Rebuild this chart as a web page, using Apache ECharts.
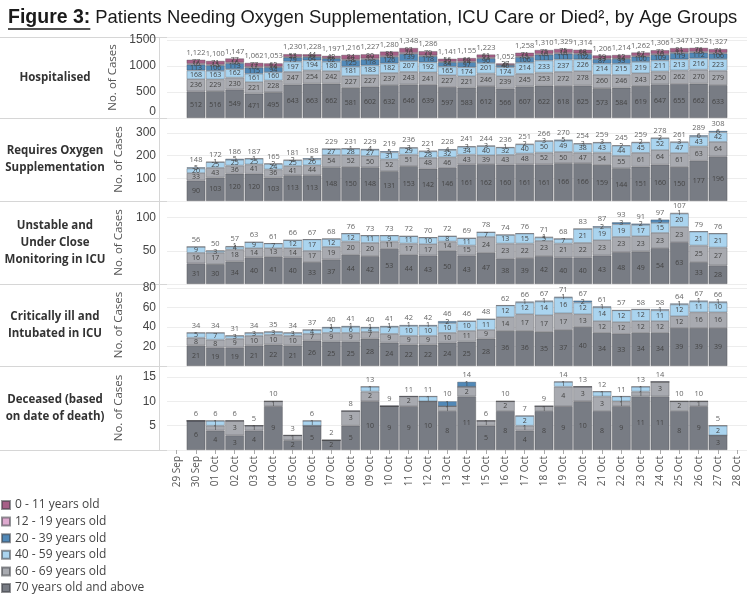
<!DOCTYPE html>
<html>
<head>
<meta charset="utf-8">
<title>Figure 3 - Patients by Age Groups</title>
<script src="https://cdn.jsdelivr.net/npm/echarts@6.0.0/dist/echarts.min.js"></script>
<style>
  html, body { margin: 0; padding: 0; background: #fff; }
  #chart { width: 747px; height: 598px; }
</style>
</head>
<body>
<div id="chart"></div>
<script>
/* Figure 3: stacked age-group bars, five panels sharing one date axis.
 * 29 Sep and 28 Oct are empty columns in the source, hence the padding. */

const DATES = ['29 Sep', '30 Sep', '01 Oct', '02 Oct', '03 Oct', '04 Oct', '05 Oct', '06 Oct', '07 Oct',
  '08 Oct', '09 Oct', '10 Oct', '11 Oct', '12 Oct', '13 Oct', '14 Oct', '15 Oct', '16 Oct', '17 Oct',
  '18 Oct', '19 Oct', '20 Oct', '21 Oct', '22 Oct', '23 Oct', '24 Oct', '25 Oct', '26 Oct', '27 Oct', '28 Oct'];

const AGE_GROUPS = ['0 - 11 years old', '12 - 19 years old', '20 - 39 years old',
  '40 - 59 years old', '60 - 69 years old', '70 years old and above'];

// values below run 30 Sep .. 27 Oct
const HOSP_70  = [512, 516, 549, 471, 495, 643, 663, 662, 581, 602, 632, 646, 639, 597, 583, 612, 566, 607, 622, 618, 625, 573, 584, 619, 647, 655, 662, 633];
const HOSP_60  = [236, 229, 230, 221, 228, 247, 254, 242, 227, 227, 237, 243, 241, 227, 221, 246, 239, 245, 253, 272, 278, 260, 246, 243, 250, 262, 270, 279];
const HOSP_40  = [168, 163, 162, 161, 160, 197, 194, 180, 181, 183, 182, 207, 192, 165, 174, 201, 174, 214, 233, 237, 226, 214, 215, 219, 211, 213, 216, 223];
const HOSP_20  = [113, 106, 113, 115, 94, 79, 64, 62, 125, 118, 126, 139, 118, 84, 97, 90, 40, 106, 111, 111, 102, 87, 93, 100, 109, 119, 112, 106];
const HOSP_12  = [16, 15, 16, 17, 14, 11, 9, 9, 18, 17, 18, 20, 17, 12, 14, 13, 6, 15, 16, 16, 15, 13, 14, 14, 16, 17, 16, 15];
const HOSP_0   = [77, 71, 77, 77, 62, 53, 44, 42, 84, 80, 85, 93, 79, 56, 66, 61, 27, 71, 75, 75, 68, 59, 62, 67, 73, 81, 76, 71];

const OXY_70 = [90, 103, 120, 120, 103, 113, 113, 148, 150, 148, 131, 153, 142, 146, 161, 162, 160, 161, 161, 166, 166, 159, 144, 151, 160, 150, 177, 196];
const OXY_60 = [33, 43, 36, 41, 36, 41, 44, 54, 52, 50, 52, 51, 48, 46, 43, 39, 43, 48, 52, 50, 47, 54, 55, 61, 64, 61, 63, 64];
const OXY_40 = [20, 25, 25, 25, 24, 25, 26, 27, 28, 27, 31, 29, 28, 32, 34, 40, 32, 40, 50, 49, 38, 43, 44, 45, 52, 47, 43, 42];
const OXY_20 = [5, 1, 5, 1, 2, 2, 5, 0, 1, 4, 5, 3, 3, 4, 3, 3, 1, 2, 3, 5, 3, 3, 2, 2, 2, 3, 6, 6];

const ICU_70 = [31, 30, 34, 40, 41, 40, 33, 37, 44, 42, 53, 44, 43, 50, 43, 47, 38, 39, 42, 40, 40, 43, 48, 49, 54, 63, 33, 28];
const ICU_60 = [16, 17, 18, 14, 13, 14, 17, 19, 20, 20, 11, 17, 17, 14, 15, 24, 23, 22, 23, 21, 22, 23, 23, 23, 23, 23, 25, 27];
const ICU_40 = [9, 3, 4, 9, 7, 12, 17, 12, 12, 11, 9, 11, 10, 8, 11, 7, 13, 15, 5, 7, 21, 19, 19, 17, 15, 20, 21, 21];
const ICU_20 = [0, 0, 1, 0, 0, 0, 0, 0, 0, 0, 0, 0, 0, 0, 0, 0, 0, 0, 1, 0, 0, 2, 3, 2, 5, 1, 0, 0];

const INT_70 = [21, 19, 19, 21, 22, 21, 26, 25, 25, 28, 24, 22, 22, 24, 25, 28, 36, 36, 35, 37, 40, 34, 33, 34, 34, 39, 39, 39];
const INT_60 = [8, 8, 9, 10, 10, 10, 7, 9, 9, 7, 9, 9, 9, 10, 11, 9, 14, 17, 17, 17, 13, 12, 12, 12, 12, 12, 16, 16];
const INT_40 = [5, 7, 3, 3, 3, 3, 4, 5, 6, 4, 7, 10, 10, 10, 10, 11, 12, 12, 14, 16, 12, 14, 12, 12, 11, 12, 11, 10];
const INT_20 = [0, 0, 0, 0, 0, 0, 0, 1, 1, 1, 1, 1, 1, 2, 0, 0, 0, 1, 1, 1, 2, 1, 0, 0, 1, 1, 1, 1];

const DEC_70 = [6, 4, 3, 4, 9, 2, 5, 2, 5, 10, 9, 9, 10, 8, 11, 5, 8, 4, 8, 9, 10, 8, 9, 11, 11, 8, 9, 3];
const DEC_60 = [0, 1, 3, 1, 1, 1, 0, 0, 3, 2, 0, 2, 0, 1, 2, 1, 2, 1, 1, 4, 3, 3, 1, 1, 3, 2, 1, 0];
const DEC_40 = [0, 1, 0, 0, 0, 0, 1, 0, 0, 1, 0, 0, 1, 0, 0, 0, 0, 2, 0, 1, 0, 1, 1, 1, 0, 0, 0, 2];
const DEC_20 = [0, 0, 0, 0, 0, 0, 0, 0, 0, 0, 0, 0, 0, 1, 1, 0, 0, 0, 0, 0, 0, 0, 0, 0, 0, 0, 0, 0];

const Y_MAX      = [1560, 365, 125, 84, 17.25];
const Y_INTERVAL = [500, 100, 50, 20, 5];

(function () {
  'use strict';

  const COLORS = {
    '0 - 11 years old': '#a65f87',
    '12 - 19 years old': '#deaacf',
    '20 - 39 years old': '#5189b8',
    '40 - 59 years old': '#aad4ef',
    '60 - 69 years old': '#a8aab0',
    '70 years old and above': '#787c84',
  };
  const FONT = '"Open Sans", "Noto Sans", sans-serif';
  const TITLE_FONT = '"Liberation Sans", Arial, sans-serif';

  // bottom -> top stacking order per panel
  const PANELS = [
    { label: 'Hospitalised', groups: [HOSP_70, HOSP_60, HOSP_40, HOSP_20, HOSP_12, HOSP_0] },
    { label: 'Requires Oxygen\nSupplementation', groups: [OXY_70, OXY_60, OXY_40, OXY_20] },
    { label: 'Unstable and\nUnder Close\nMonitoring in ICU', groups: [ICU_70, ICU_60, ICU_40, ICU_20] },
    { label: 'Critically ill and\nIntubated in ICU', groups: [INT_70, INT_60, INT_40, INT_20] },
    { label: 'Deceased (based\non date of death)', groups: [DEC_70, DEC_60, DEC_40, DEC_20] },
  ];
  const STACK_NAMES = AGE_GROUPS.slice().reverse();

  const TOPS = [37, 118, 201, 284, 366];
  const BOTTOM = 450;
  const GRID_LEFT = 167;

  const pad = arr => [null].concat(arr, [null]);
  const fmt = v => v.toLocaleString('en-US');

  const grid = [], xAxis = [], yAxis = [], series = [];

  PANELS.forEach((p, i) => {
    const top = TOPS[i];
    const bottom = i < 4 ? TOPS[i + 1] : BOTTOM;
    const last = i === PANELS.length - 1;
    grid.push({ left: GRID_LEFT, right: 0, top, height: bottom - top });

    xAxis.push({
      type: 'category', gridIndex: i, data: DATES,
      axisLine: { show: false },
      axisTick: { show: last, alignWithLabel: true, length: 4, lineStyle: { color: '#aaa' } },
      axisLabel: { show: last, rotate: 90, fontSize: 10, color: '#555', fontFamily: FONT, margin: 6 },
    });

    yAxis.push({
      type: 'value', gridIndex: i, min: 0, max: Y_MAX[i], interval: Y_INTERVAL[i],
      name: 'No. of Cases', nameLocation: 'middle', nameGap: 42,
      nameTextStyle: { fontSize: 11.5, color: '#555', fontFamily: FONT },
      axisLine: { show: false }, axisTick: { show: false },
      axisLabel: {
        fontSize: 12, color: '#444', fontFamily: TITLE_FONT, margin: 11,
        showMinLabel: i === 0, showMaxLabel: false, verticalAlignMinLabel: 'bottom',
        formatter: v => String(v),
      },
      splitLine: { lineStyle: { color: '#ededed' } },
    });

    const stack = 'p' + i;
    p.groups.forEach((vals, g) => {
      const name = STACK_NAMES[g];
      series.push({
        name, type: 'bar', stack, xAxisIndex: i, yAxisIndex: i,
        data: pad(vals), barCategoryGap: '3%',
        itemStyle: { color: COLORS[name], borderColor: 'rgba(60,62,68,0.55)', borderWidth: 0.6 },
        label: {
          show: true, position: 'inside', fontSize: 7, color: '#444', fontFamily: FONT,
          formatter: d => (d.value > 0 ? d.value : ''),
        },
        emphasis: { disabled: true },
      });
    });

    // totals on top: a zero-height segment that only carries the label
    const totals = pad(p.groups[0].map((_, k) => p.groups.reduce((s, arr) => s + arr[k], 0)));
    series.push({
      name: 'total', type: 'bar', stack, xAxisIndex: i, yAxisIndex: i,
      data: totals.map(t => (t == null ? null : 0)),
      itemStyle: { color: 'transparent', borderWidth: 0 },
      label: {
        show: true, position: 'top', distance: 3, fontSize: 7.5, color: '#666', fontFamily: FONT,
        formatter: d => fmt(totals[d.dataIndex]),
      },
      emphasis: { disabled: true }, silent: true,
    });
  });

  // title parts, underline sized to the bold part
  const BOLD_TITLE = 'bold 19.5px ' + TITLE_FONT;
  const measure = document.createElement('canvas').getContext('2d');
  measure.font = BOLD_TITLE;
  const figW = measure.measureText('Figure 3:').width;

  const graphic = [
    { type: 'text', left: 8, top: 8, style: { text: 'Figure 3:', font: BOLD_TITLE, fill: '#1a1a1a' } },
    { type: 'text', left: 8 + figW + 5, top: 9, style: { text: 'Patients Needing Oxygen Supplementation, ICU Care or Died\u00B2, by Age Groups', font: '18.4px ' + TITLE_FONT, fill: '#1a1a1a' } },
    { type: 'line', shape: { x1: 8, y1: 29, x2: 8 + figW, y2: 29 }, style: { stroke: '#1a1a1a', lineWidth: 1.3 } },
  ];
  TOPS.concat([BOTTOM]).forEach(y => graphic.push({
    type: 'line', shape: { x1: 0, y1: y + 0.5, x2: 747, y2: y + 0.5 }, style: { stroke: '#d6d6d6', lineWidth: 1 }, silent: true,
  }));
  graphic.push({ type: 'line', shape: { x1: 159.5, y1: TOPS[0], x2: 159.5, y2: BOTTOM }, style: { stroke: '#d6d6d6', lineWidth: 1 } });
  PANELS.forEach((p, i) => {
    const top = TOPS[i];
    const bottom = i < 4 ? TOPS[i + 1] : BOTTOM;
    graphic.push({
      type: 'text', x: 55, y: (top + bottom) / 2,
      style: {
        text: p.label, font: 'bold 11.5px ' + FONT, fill: '#333', lineHeight: 17,
        align: 'center', verticalAlign: 'middle',
      },
    });
  });

  const chart = echarts.init(document.getElementById('chart'), null, { renderer: 'canvas' });
  chart.setOption({
    backgroundColor: '#fff', animation: false,
    grid, xAxis, yAxis, series, graphic,
    legend: {
      data: AGE_GROUPS, orient: 'vertical', left: 1, top: 498, padding: 0,
      icon: 'rect', itemWidth: 8, itemHeight: 8, itemGap: 2.6,
      textStyle: { fontSize: 12, color: '#444', fontFamily: FONT, lineHeight: 14 },
      selectedMode: false,
    },
  });
})();
</script>
</body>
</html>
